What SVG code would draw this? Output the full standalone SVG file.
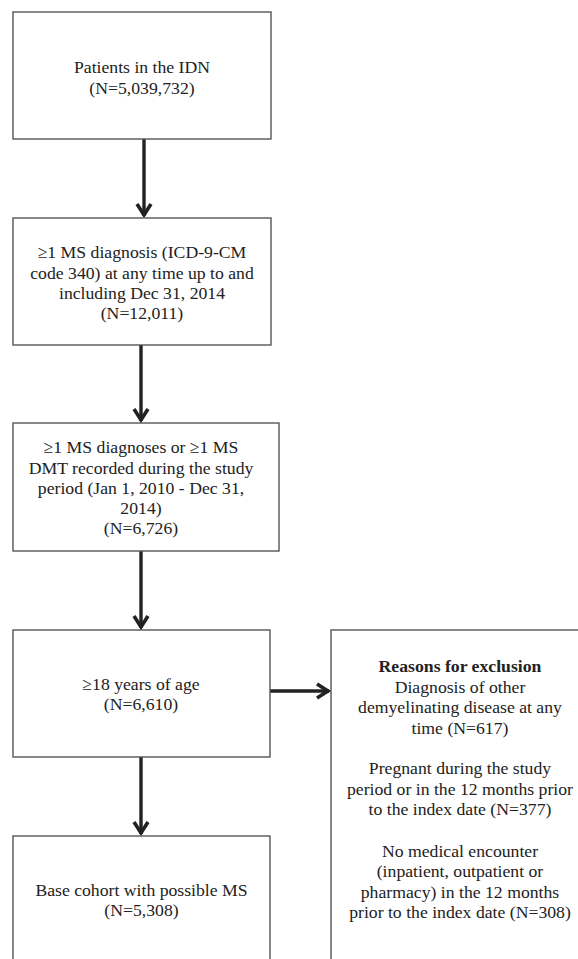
<svg xmlns="http://www.w3.org/2000/svg" width="578" height="959" viewBox="0 0 578 959">
<style>
.box{fill:#fff;stroke:#555;stroke-width:1.4}
.t{font-family:"Liberation Serif","Times New Roman",serif;font-size:17.7px;fill:#222;text-anchor:middle}
.b{font-weight:bold}
.ln{stroke:#222;stroke-width:3.4;fill:none}
.hd{stroke:#222;stroke-width:3.6;fill:none;stroke-linejoin:miter;stroke-linecap:butt}
</style>
<rect width="578" height="959" fill="#fff"/>
<g id="connectors">
<line class="ln" x1="144" y1="139" x2="144" y2="216"/>
<polyline class="hd" points="137,204 144,215 151,204"/>
<line class="ln" x1="141" y1="345" x2="141" y2="421"/>
<polyline class="hd" points="134,409 141,420 148,409"/>
<line class="ln" x1="141" y1="551" x2="141" y2="628"/>
<polyline class="hd" points="134,616 141,627 148,616"/>
<line class="ln" x1="270" y1="691" x2="329" y2="691"/>
<polyline class="hd" points="317,684 328,691 317,698"/>
<line class="ln" x1="141" y1="757" x2="141" y2="834"/>
<polyline class="hd" points="134,822 141,833 148,822"/>
</g>
<g id="n1">
<rect class="box" x="13" y="12" width="258" height="127"/>
<text class="t" x="142" y="73">Patients in the IDN</text>
<text class="t" x="142" y="93.5">(N=5,039,732)</text>
</g>
<g id="n2">
<rect class="box" x="13" y="218" width="258" height="127"/>
<text class="t" x="142" y="258">≥1 MS diagnosis (ICD-9-CM</text>
<text class="t" x="142" y="278.5">code 340) at any time up to and</text>
<text class="t" x="142" y="299">including Dec 31, 2014</text>
<text class="t" x="142" y="319">(N=12,011)</text>
</g>
<g id="n3">
<rect class="box" x="13" y="423" width="266" height="128"/>
<text class="t" x="141" y="453">≥1 MS diagnoses or ≥1 MS</text>
<text class="t" x="141" y="473.5">DMT recorded during the study</text>
<text class="t" x="141" y="494">period (Jan 1, 2010 - Dec 31,</text>
<text class="t" x="141" y="514">2014)</text>
<text class="t" x="141" y="534">(N=6,726)</text>
</g>
<g id="n4">
<rect class="box" x="13" y="630" width="257" height="127"/>
<text class="t" x="141" y="690">≥18 years of age</text>
<text class="t" x="141" y="710">(N=6,610)</text>
</g>
<g id="n5">
<rect class="box" x="13" y="836" width="257" height="140"/>
<text class="t" x="141.5" y="896">Base cohort with possible MS</text>
<text class="t" x="141.5" y="916">(N=5,308)</text>
</g>
<g id="n6">
<rect class="box" x="331" y="630" width="280" height="350"/>
<text class="t b" x="460" y="672">Reasons for exclusion</text>
<text class="t" x="460" y="692.5">Diagnosis of other</text>
<text class="t" x="460" y="713">demyelinating disease at any</text>
<text class="t" x="460" y="733.5">time (N=617)</text>
<text class="t" x="460" y="774">Pregnant during the study</text>
<text class="t" x="460" y="794.5">period or in the 12 months prior</text>
<text class="t" x="460" y="815">to the index date (N=377)</text>
<text class="t" x="460" y="856.5">No medical encounter</text>
<text class="t" x="460" y="877">(inpatient, outpatient or</text>
<text class="t" x="460" y="897.5">pharmacy) in the 12 months</text>
<text class="t" x="460" y="918">prior to the index date (N=308)</text>
</g>
</svg>
